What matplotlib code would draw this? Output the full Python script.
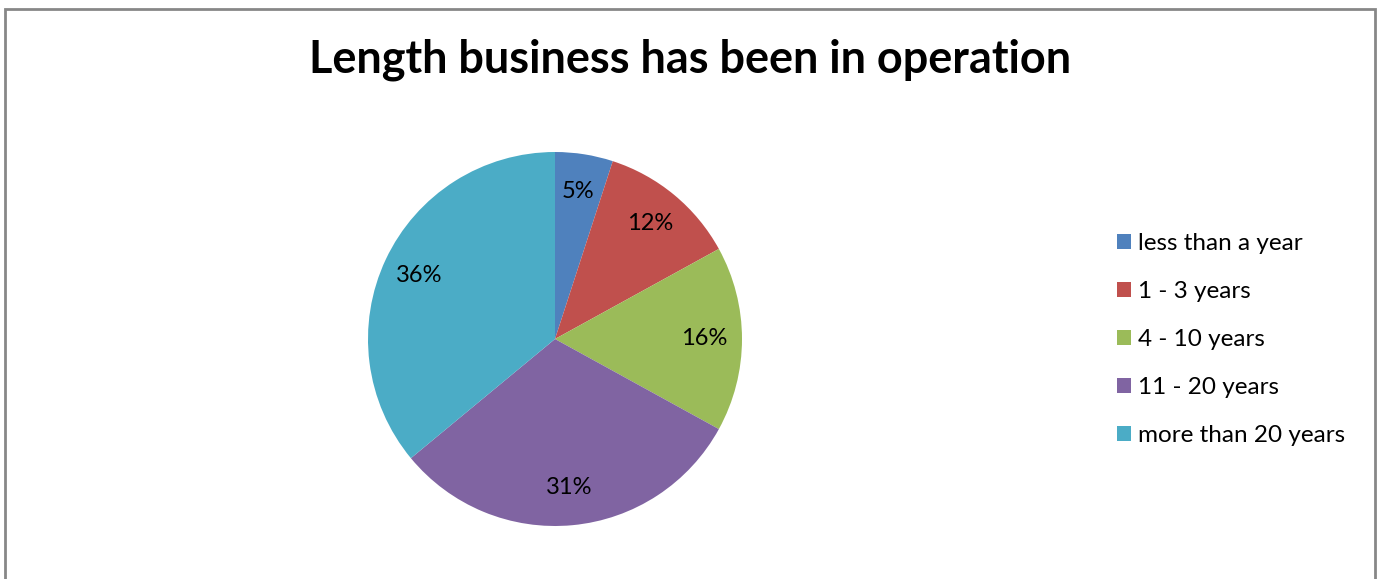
import matplotlib
matplotlib.use("Agg")
import matplotlib.pyplot as plt
from matplotlib.patches import Rectangle

# Survey answers: how long each business has been running
CATEGORIES = ["less than a year", "1 - 3 years", "4 - 10 years", "11 - 20 years", "more than 20 years"]
SHARES = [5, 12, 16, 31, 36]
COLORS = ["#4F81BD", "#C0504D", "#9BBB59", "#8064A2", "#4BACC6"]
TITLE = "Length business has been in operation"

W, H = 1381, 579
DPI = 100
FONT = ["Lato", "DejaVu Sans"]

plt.rcParams["font.family"] = FONT

fig = plt.figure(figsize=(W / DPI, H / DPI), dpi=DPI)

# chart-area frame (bottom edge falls outside the canvas)
fig.patches.append(Rectangle((5 / W, -0.05), 1370 / W, (H - 9) / H + 0.05,
                             transform=fig.transFigure, fill=False,
                             edgecolor="#878787", linewidth=2))

fig.text(690 / W, 1 - 60 / H, TITLE, ha="center", va="center",
         fontsize=32.4, fontweight="bold", color="#000000")

cx, cy, r = 555, H - 339, 187
ax = fig.add_axes([(cx - r) / W, (cy - r) / H, 2 * r / W, 2 * r / H])
wedges, _, autotexts = ax.pie(
    SHARES,
    colors=COLORS,
    startangle=90,
    counterclock=False,
    radius=1.0,
    autopct=lambda p: f"{p:.0f}%",
    pctdistance=0.8,
    wedgeprops={"linewidth": 0},
    textprops={"fontsize": 17, "color": "#000000"},
)
ax.set_xlim(-1, 1)
ax.set_ylim(-1, 1)
ax.set_aspect("equal")
ax.axis("off")

leg = fig.legend(
    wedges, CATEGORIES,
    loc="upper left",
    bbox_to_anchor=(1117 / W, 1 - 233 / H),
    frameon=False,
    fontsize=17.5,
    handlelength=0.58,
    handleheight=0.58,
    handletextpad=0.29,
    labelspacing=1.11,
    borderpad=0,
    borderaxespad=0,
)

fig.savefig("out.png", dpi=DPI, facecolor="white")
